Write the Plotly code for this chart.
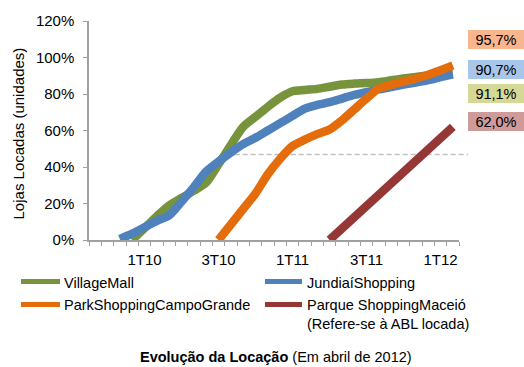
import plotly.graph_objects as go

# ---------------- data ----------------
tick_text = ["1T10", "3T10", "1T11", "3T11", "1T12"]
tick_month = [4, 10, 16, 22, 28]          # month index of each label
n_months = 30

y_ticks = [0, 20, 40, 60, 80, 100, 120]
y_tick_text = ["0%", "20%", "40%", "60%", "80%", "100%", "120%"]

village_start = 3
village = [0, 6.5, 13, 19, 23, 27, 31.5, 41.5, 52, 62, 67.5, 73, 78, 81.5,
           82.2, 82.8, 84, 85.2, 85.7, 86, 86.5, 87.5, 88.5, 89.4, 90.2, 90.7, 91.1]

jundiai_start = 2
jundiai = [0.5, 3.5, 7, 10.5, 13.5, 21, 29, 37.5, 43, 48, 52.5, 56, 60, 64, 68,
           72, 74, 75.5, 77.5, 79.5, 81, 82.5, 83.8, 85.1, 86.3, 87.6, 89.2, 90.7]

park_start = 10
park = [0, 8.5, 17, 25.5, 36, 44.5, 51.5, 55, 58, 60.5, 65.5, 71.5, 77.5, 83,
        85, 86.9, 88.5, 90.5, 93, 95.7]

maceio_months = [19, 29]
maceio = [0.0, 62.0]

reference_level = 46.9

names = ["VillageMall", "JundiaíShopping", "ParkShoppingCampoGrande",
         "Parque ShoppingMaceió"]
colors = ["#77933C", "#4F81BD", "#E46C0A", "#953735"]

end_labels = ["95,7%", "90,7%", "91,1%", "62,0%"]
end_label_colors = ["#F9B58D", "#A8C5EA", "#D5D896", "#CF9A9A"]

# ---------------- layout helpers ----------------
W, H = 524, 367
ML, MR, MT, MB = 89, 65, 19, 127
PW, PH = W - ML - MR, H - MT - MB
FONT = "Liberation Sans, Arial, sans-serif"
AXC = "#A0A0A0"


def px_x(px):
    return (px - ML) / PW


def px_y(py):
    return (H - MB - py) / PH


fig = go.Figure()

series = [
    ([village_start + i + 0.5 for i in range(len(village))], village),
    ([jundiai_start + i + 0.5 for i in range(len(jundiai))], jundiai),
    ([park_start + i + 0.5 for i in range(len(park))], park),
    ([m + 0.5 for m in maceio_months], maceio),
]
for (xs, ys), name, col in zip(series, names, colors):
    fig.add_trace(go.Scatter(x=xs, y=ys, mode="lines", name=name,
                             line=dict(color=col, width=8.5, shape="spline",
                                       smoothing=0.8),
                             showlegend=False, hoverinfo="skip"))

# dashed reference line
fig.add_shape(type="line", xref="paper", yref="y",
              x0=px_x(226.7), x1=px_x(468), y0=reference_level, y1=reference_level,
              line=dict(color="#BFBFBF", width=1.5, dash="5px,3px"), layer="below")

annotations = []
shapes = []

# end-value boxes
box_centers_py = [37.5, 67.5, 91.7, 120.5]
for txt, bc, cy in zip(end_labels, end_label_colors, box_centers_py):
    annotations.append(dict(xref="paper", yref="paper", x=px_x(496), y=px_y(cy),
                            text=txt, showarrow=False, bgcolor=bc, width=54,
                            height=17, borderpad=1, borderwidth=0,
                            xanchor="center", yanchor="middle",
                            font=dict(family=FONT, size=14.5, color="#000")))

# y-axis title
annotations.append(dict(xref="paper", yref="paper", x=px_x(18), y=px_y(132.5),
                        text="Lojas Locadas (unidades)", textangle=-90,
                        showarrow=False, xanchor="center", yanchor="middle",
                        font=dict(family=FONT, size=15, color="#000")))

# manual legend
legend_items = [
    (names[0], colors[0], 21, 60, 62, 282),
    (names[1], colors[1], 265, 302, 305, 282),
    (names[2], colors[2], 21, 60, 62, 305),
    (names[3] + "<br>(Refere-se à ABL locada)", colors[3], 265, 302, 305, 305),
]
for text, col, lx0, lx1, tx, ly in legend_items:
    shapes.append(dict(type="line", xref="paper", yref="paper",
                       x0=px_x(lx0), x1=px_x(lx1), y0=px_y(ly), y1=px_y(ly),
                       line=dict(color=col, width=5)))
    annotations.append(dict(xref="paper", yref="paper", x=px_x(tx), y=px_y(ly - 9),
                            text=text, showarrow=False, xanchor="left",
                            yanchor="top", align="left",
                            font=dict(family=FONT, size=14.5, color="#000")))

# bottom title
annotations.append(dict(xref="paper", yref="paper", x=px_x(276), y=px_y(358),
                        text="<b>Evolução da Locação</b> (Em abril de 2012)",
                        showarrow=False, xanchor="center", yanchor="middle",
                        font=dict(family=FONT, size=14.5, color="#000")))

for s in shapes:
    fig.add_shape(**s)

fig.update_layout(
    width=W, height=H,
    margin=dict(l=ML, r=MR, t=MT, b=MB, pad=0),
    paper_bgcolor="white", plot_bgcolor="white",
    showlegend=False,
    annotations=annotations,
    font=dict(family=FONT, size=15, color="#000"),
)
fig.update_xaxes(range=[0, n_months], tickmode="array",
                 tickvals=[m + 0.5 for m in tick_month], ticktext=tick_text,
                 ticks="", showgrid=False, zeroline=False,
                 showline=True, linecolor=AXC, linewidth=1.5,
                 tickfont=dict(family=FONT, size=15, color="#000"),
                 ticklabelstandoff=5,
                 minor=dict(tickmode="array", tickvals=list(range(n_months + 1)),
                            ticks="outside", ticklen=4, tickcolor=AXC,
                            tickwidth=1, showgrid=False))
fig.update_yaxes(range=[0, 120], tickmode="array", tickvals=y_ticks,
                 ticktext=y_tick_text, ticks="outside", ticklen=4, tickcolor=AXC,
                 showgrid=False, zeroline=False, showline=True, linecolor=AXC,
                 linewidth=1.5, tickfont=dict(family=FONT, size=15, color="#000"),
                 ticklabelstandoff=6)

fig.write_html("out.html")
